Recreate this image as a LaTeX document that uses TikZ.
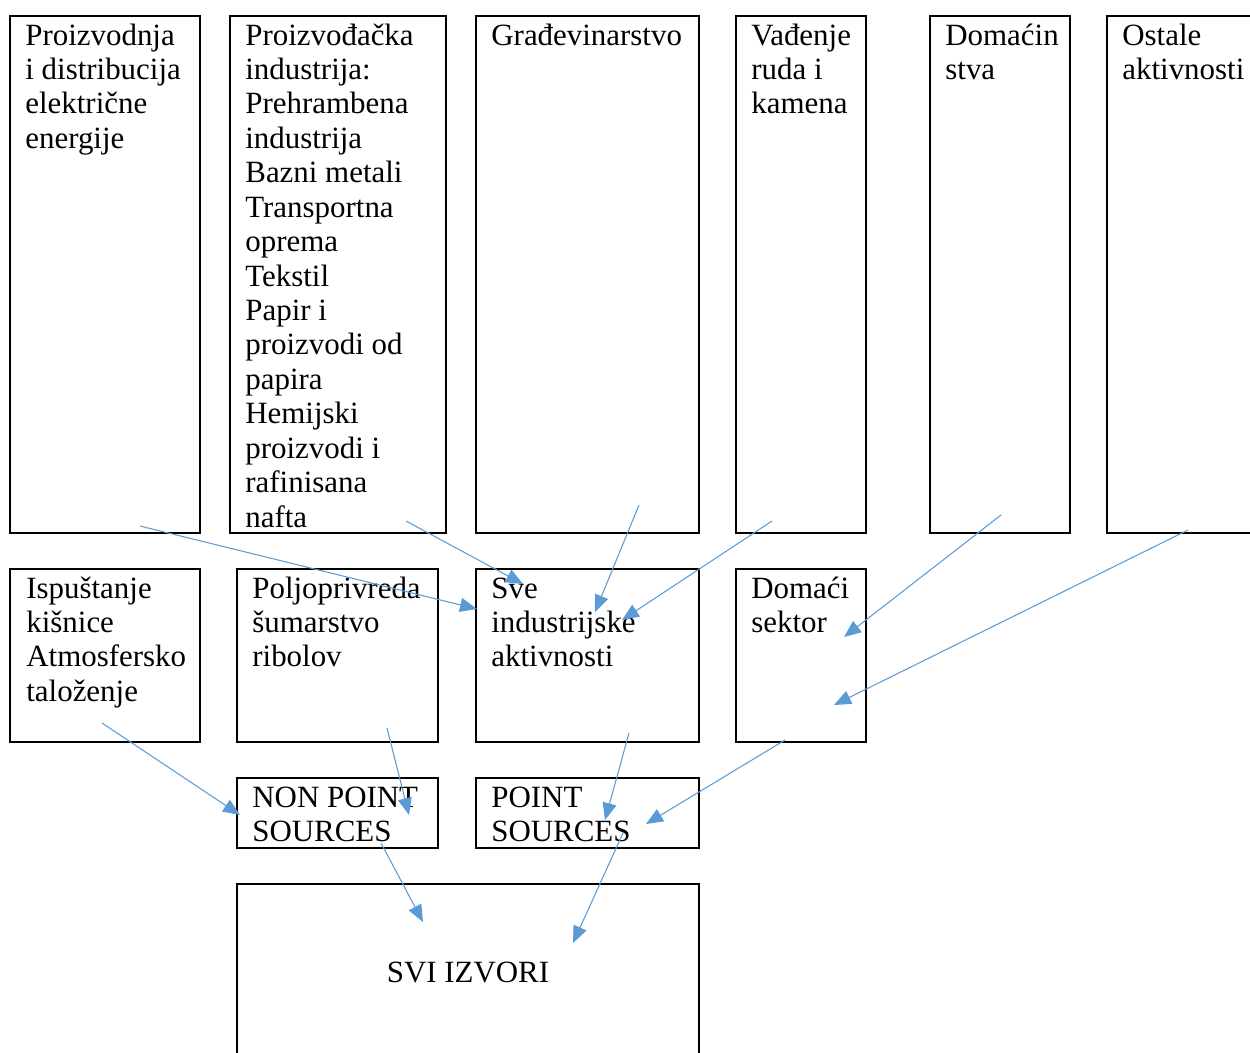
\documentclass[tikz,border=0pt]{standalone}
\usepackage{fontspec}
\setmainfont{Liberation Serif}
\usepackage{xcolor}
\usetikzlibrary{positioning}
\usetikzlibrary{arrows.meta}
\definecolor{arrowblue}{HTML}{5B9BD5}

\begin{document}
\begin{tikzpicture}[x=0.02cm, y=-0.02cm,
		box/.style={
			draw,
			rectangle,
			line width=1.1pt,
			outer sep=0pt,
			inner sep=0pt,
			font=\fontsize{17.6}{19.6}\selectfont
		},
		txt/.style={anchor=base west, align=flush left, text width=5cm, inner sep=0pt,
			font=\fontsize{17.6}{19.6}\selectfont},
		flow/.style={draw=arrowblue, line width=0.6pt,
			-{Triangle[length=0.34cm, width=0.28cm]}}]
		\useasboundingbox (0,0) rectangle (1250,1052);
		
		% top row
		\node[box, minimum width=3.8cm, minimum height=10.34cm] (elektro) at (105,274.5) {};
		\node[box, minimum width=4.32cm, minimum height=10.34cm] (proizv) at (338,274.5) {};
		\node[box, minimum width=4.46cm, minimum height=10.34cm] (gradj) at (587.5,274.5) {};
		\node[box, minimum width=2.6cm, minimum height=10.34cm] (rude) at (801,274.5) {};
		\node[box, minimum width=2.8cm, minimum height=10.34cm] (domacin) at (1000,274.5) {};
		\node[box, minimum width=3.66cm, minimum height=10.34cm] (ostale) at (1198.5,274.5) {};
		
		\node[txt] (elektrotxt) at ([shift={(15,29)}]elektro.north west) {Proizvodnja\\i distribucija\\električne\\energije};
		\node[txt] (proizvtxt) at ([shift={(15,29)}]proizv.north west) {Proizvođačka\\industrija:\\Prehrambena\\industrija\\Bazni metali\\Transportna\\oprema\\Tekstil\\Papir i\\proizvodi od\\papira\\Hemijski\\proizvodi i\\rafinisana\\nafta};
		\node[txt] (gradjtxt) at ([shift={(15,29)}]gradj.north west) {Građevinarstvo};
		\node[txt] (rudetxt) at ([shift={(15,29)}]rude.north west) {Vađenje\\ruda i\\kamena};
		\node[txt] (domacintxt) at ([shift={(15,29)}]domacin.north west) {Domaćin\\stva};
		\node[txt] (ostaletxt) at ([shift={(15,29)}]ostale.north west) {Ostale\\aktivnosti};
		
		% second row
		\node[box, minimum width=3.8cm, minimum height=3.46cm] (kisnica) at (105,655.5) {};
		\node[box, minimum width=4.02cm, minimum height=3.46cm] (poljo) at (337.5,655.5) {};
		\node[box, minimum width=4.46cm, minimum height=3.46cm] (industr) at (587.5,655.5) {};
		\node[box, minimum width=2.6cm, minimum height=3.46cm] (domaci) at (801,655.5) {};
		
		\node[txt] (kisnicatxt) at ([shift={(16,29)}]kisnica.north west) {Ispuštanje\\kišnice\\Atmosfersko\\taloženje};
		\node[txt] (poljotxt) at ([shift={(15,29)}]poljo.north west) {Poljoprivreda\\šumarstvo\\ribolov};
		\node[txt] (industrtxt) at ([shift={(15,29)}]industr.north west) {Sve\\industrijske\\aktivnosti};
		\node[txt] (domacitxt) at ([shift={(15,29)}]domaci.north west) {Domaći\\sektor};
		
		% third row
		\node[box, minimum width=4.02cm, minimum height=1.4cm] (nonpoint) at (337.5,813) {};
		\node[box, minimum width=4.46cm, minimum height=1.4cm] (point) at (587.5,813) {};
		\node[txt] (nonpointtxt) at ([shift={(15,29)}]nonpoint.north west) {NON POINT\\SOURCES};
		\node[txt] (pointtxt) at ([shift={(15,29)}]point.north west) {POINT\\SOURCES};
		
		% bottom
		\node[box, minimum width=9.24cm, minimum height=3.52cm] (svi) at (468,972) {SVI IZVORI};
		
		% arrow ends
		\coordinate (a1) at (140,526);  \coordinate (b1) at (477,609);
		\coordinate (a2) at (406,521);  \coordinate (b2) at (523,584);
		\coordinate (a3) at (639,505);  \coordinate (b3) at (595,612);
		\coordinate (a4) at (772,521);  \coordinate (b4) at (622,620);
		\coordinate (a5) at (1001,515); \coordinate (b5) at (844,637);
		\coordinate (a6) at (1188,530); \coordinate (b6) at (834,705);
		\coordinate (a7) at (102,723);  \coordinate (b7) at (240,815);
		\coordinate (a8) at (387,728);  \coordinate (b8) at (409,815);
		\coordinate (a9) at (629,733);  \coordinate (b9) at (605,820);
		\coordinate (a10) at (785,740); \coordinate (b10) at (646,824);
		\coordinate (a11) at (381,843); \coordinate (b11) at (423,922);
		\coordinate (a12) at (623,833); \coordinate (b12) at (573,943);
		
		\foreach \i in {1,...,12}
			\draw[flow] (a\i) -- (b\i);
	\end{tikzpicture}
\end{document}
